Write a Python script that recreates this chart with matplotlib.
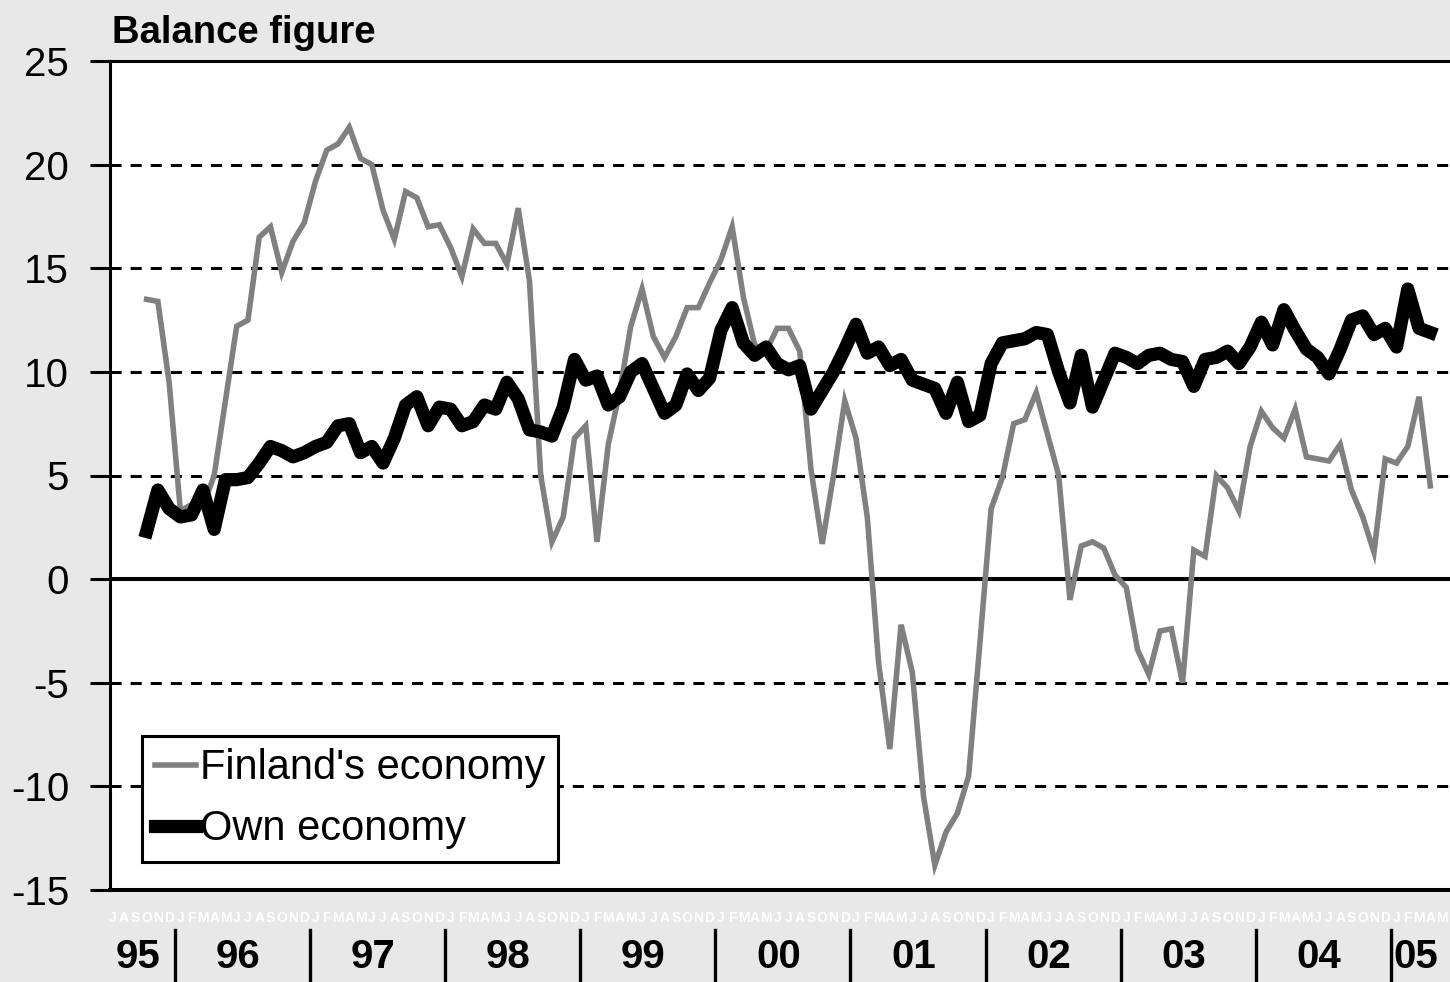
import numpy as np
import pandas as pd
import matplotlib
matplotlib.use("Agg")
import matplotlib.pyplot as plt
from matplotlib.transforms import blended_transform_factory

plt.rcParams['font.family'] = ['Liberation Sans', 'DejaVu Sans']

# ---------------- data ----------------
months = pd.period_range('1995-10', '2005-04', freq='M')

finland = [13.5, 13.4, 9.5,
           3.3, 3.6, 3.5, 5.0, 8.6, 12.2, 12.5, 16.5, 17.0, 14.8, 16.3, 17.2,
           19.2, 20.7, 21.0, 21.8, 20.3, 20.0, 17.8, 16.4, 18.7, 18.4, 17.0, 17.1,
           16.0, 14.6, 16.9, 16.2, 16.2, 15.2, 17.9, 14.4, 5.0, 1.8, 3.0, 6.8,
           7.4, 1.8, 6.5, 9.0, 12.2, 14.0, 11.7, 10.7, 11.7, 13.1, 13.1, 14.3,
           15.4, 17.0, 13.6, 11.3, 11.0, 12.1, 12.1, 11.0, 5.3, 1.7, 5.0, 8.6,
           6.8, 3.0, -4.0, -8.2, -2.2, -4.5, -10.5, -13.8, -12.2, -11.3, -9.5, -3.1,
           3.4, 4.9, 7.5, 7.7, 9.0, 7.0, 5.0, -1.0, 1.6, 1.8, 1.5, 0.2,
           -0.4, -3.4, -4.6, -2.5, -2.4, -5.0, 1.4, 1.1, 5.0, 4.4, 3.3, 6.4,
           8.1, 7.3, 6.8, 8.2, 5.9, 5.8, 5.7, 6.5, 4.3, 3.0, 1.3, 5.8,
           5.6, 6.4, 8.8, 4.5]

own = [2.3, 4.3, 3.4,
       3.0, 3.1, 4.3, 2.4, 4.8, 4.8, 4.9, 5.6, 6.4, 6.2, 5.9, 6.1,
       6.4, 6.6, 7.4, 7.5, 6.1, 6.4, 5.6, 6.8, 8.4, 8.8, 7.4, 8.3,
       8.2, 7.4, 7.6, 8.4, 8.2, 9.5, 8.7, 7.2, 7.1, 6.9, 8.3, 10.6,
       9.6, 9.8, 8.4, 8.8, 10.0, 10.4, 9.2, 8.0, 8.4, 9.9, 9.1, 9.7,
       12.0, 13.1, 11.4, 10.8, 11.2, 10.4, 10.1, 10.3, 8.2, 9.1, 10.0, 11.1,
       12.3, 10.9, 11.2, 10.3, 10.6, 9.6, 9.4, 9.2, 8.0, 9.5, 7.6, 7.9,
       10.4, 11.4, 11.5, 11.6, 11.9, 11.8, 10.0, 8.5, 10.8, 8.3, 9.6, 10.9,
       10.7, 10.4, 10.8, 10.9, 10.6, 10.5, 9.3, 10.6, 10.7, 11.0, 10.4, 11.2,
       12.4, 11.3, 13.0, 12.0, 11.1, 10.7, 9.9, 11.1, 12.5, 12.7, 11.8, 12.1,
       11.2, 14.0, 12.1, 11.9]

year_labels = ['95', '96', '97', '98', '99', '00', '01', '02', '03', '04', '05']
month_letters = ['J', 'F', 'M', 'A', 'M', 'J', 'J', 'A', 'S', 'O', 'N', 'D']
yticks = [-15, -10, -5, 0, 5, 10, 15, 20, 25]
series_labels = ["Finland's economy", "Own economy"]
title = 'Balance figure'

# ---------------- figure ----------------
W, H = 1450, 982
fig = plt.figure(figsize=(W / 100, H / 100), dpi=100)
fig.patch.set_facecolor('#e8e8e8')
ax = fig.add_axes([110 / W, 92 / H, 1340 / W, 829 / H])
ax.set_facecolor('white')

# month index relative to Jan 1996
xm = np.array([(p.year - 1996) * 12 + (p.month - 1) for p in months])
x0, x1 = -6.25, 112.75
ax.set_xlim(x0, x1)
ax.set_ylim(-15, 25)

for v in yticks:
    if v == 0:
        ax.axhline(v, color='black', lw=2.9, zorder=2)
    elif -15 < v < 25:
        ax.axhline(v, color='black', lw=2.16, ls=(0, (3.7, 3.0)), zorder=1)

l1, = ax.plot(xm, finland, color='#808080', lw=4.0, zorder=3,
              solid_joinstyle='miter', label=series_labels[0])
l2, = ax.plot(xm, own, color='black', lw=9.5, zorder=4,
              solid_joinstyle='round', label=series_labels[1])

ax.spines['right'].set_visible(False)
ax.spines['left'].set_linewidth(2.2)
ax.spines['top'].set_linewidth(2.2)
ax.spines['bottom'].set_linewidth(2.9)

ax.set_yticks(yticks)
ax.set_yticklabels([str(v) for v in yticks])
ax.tick_params(axis='y', direction='out', length=14.4, width=2.2, pad=15,
               labelsize=29)
ax.set_xticks([])

# legend
leg = ax.legend(handles=[l1, l2], loc='upper left',
                bbox_to_anchor=(142 / W, (H - 736) / H),
                bbox_transform=fig.transFigure, frameon=True, fancybox=False,
                edgecolor='black', framealpha=1, fontsize=30,
                borderpad=0.3, handlelength=1.0, handletextpad=0.1,
                labelspacing=0.5, borderaxespad=0)
leg.get_frame().set_linewidth(2.2)

# title
fig.text(112 / W, (H - 43) / H, title, fontsize=27.5, fontweight='bold',
         va='baseline', ha='left')

# year separators and labels below the axis
tr = blended_transform_factory(ax.transData, fig.transFigure)
bounds = [-0.5 + 12 * k for k in range(10)]
for b in bounds:
    ax.plot([b, b], [(H - 930) / H, 0], color='black', lw=2.4,
            transform=tr, clip_on=False)
edges = [x0] + bounds + [x1]
for i, lab in enumerate(year_labels):
    c = (edges[i] + edges[i + 1]) / 2 - 0.4
    ax.text(c, (H - 957) / H, lab, transform=tr, ha='center', va='center',
            fontsize=29, fontweight='bold')

# faint white month strip
for m in range(-6, 113):
    ax.text(m, (H - 918) / H, month_letters[m % 12], transform=tr,
            ha='center', va='center', fontsize=10, fontweight='bold',
            color='white')

fig.savefig('out.png', dpi=100, facecolor=fig.get_facecolor())
